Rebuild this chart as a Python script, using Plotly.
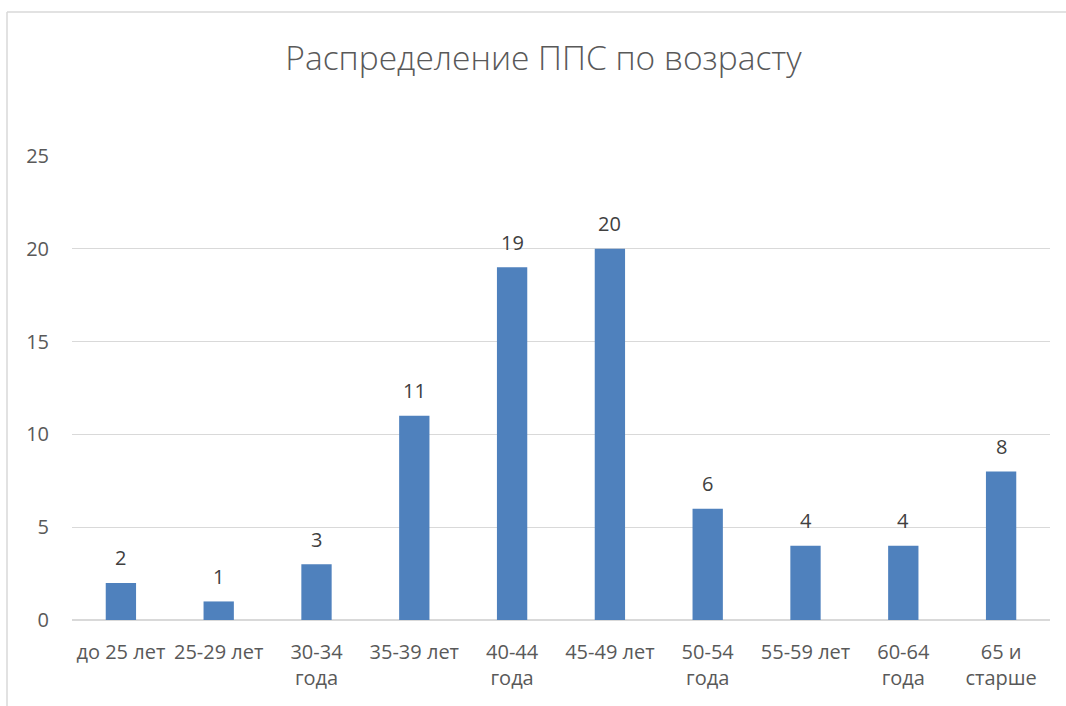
import plotly.graph_objects as go

categories = ["до 25 лет", "25-29 лет", "30-34<br>года", "35-39 лет", "40-44<br>года",
              "45-49 лет", "50-54<br>года", "55-59 лет", "60-64<br>года", "65 и<br>старше"]
values = [2, 1, 3, 11, 19, 20, 6, 4, 4, 8]
y_ticks = [0, 5, 10, 15, 20, 25]
title_text = "Распределение ППС по возрасту"

FONT = "Open Sans"
L, R, T, B = 72, 16, 156, 86
W, H = 1066, 706
pw, ph = W - L - R, H - T - B

fig = go.Figure()
fig.add_trace(go.Bar(
    x=categories, y=values,
    marker=dict(color="#4f81bd", line=dict(width=0)),
    width=0.31,
    hoverinfo="x+y",
))

for c, v in zip(categories, values):
    fig.add_annotation(x=c, y=v, text=str(v), showarrow=False, yanchor="middle",
                       yshift=25, font=dict(family=FONT, size=20, color="#404040"))

fig.update_layout(
    width=W, height=H,
    margin=dict(l=L, r=R, t=T, b=B),
    paper_bgcolor="white", plot_bgcolor="white",
    showlegend=False,
    title=dict(text=title_text, x=543.5 / W, xanchor="center", y=1 - 58 / H, yanchor="middle",
               font=dict(family=FONT, size=33.5, color="#595959", weight=300)),
    xaxis=dict(
        type="category", showgrid=False, showline=False, zeroline=False,
        ticks="outside", ticklen=14, tickcolor="rgba(0,0,0,0)",
        tickfont=dict(family=FONT, size=20, color="#595959"),
        range=[-0.5, len(categories) - 0.5],
    ),
    yaxis=dict(
        range=[0, 25], tickvals=y_ticks, showgrid=True, gridcolor="#d9d9d9", gridwidth=1,
        zeroline=True, zerolinecolor="#d9d9d9", zerolinewidth=2,
        showline=False, ticks="outside", ticklen=18, tickcolor="rgba(0,0,0,0)",
        tickfont=dict(family=FONT, size=20, color="#595959"),
    ),
    bargap=0.69,
)

# outer chart border (cropped at right and bottom)
x_left = (7 - L) / pw
y_top = (H - B - 12) / ph
fig.add_shape(type="line", xref="paper", yref="paper", x0=x_left, x1=1.1, y0=y_top, y1=y_top,
              line=dict(color="#d9d9d9", width=1.5))
fig.add_shape(type="line", xref="paper", yref="paper", x0=x_left, x1=x_left, y0=y_top, y1=-0.3,
              line=dict(color="#d9d9d9", width=1.5))

fig.write_html("out.html", config={"displayModeBar": False},
               post_script="document.body.style.margin='0';document.body.style.overflow='hidden';")
